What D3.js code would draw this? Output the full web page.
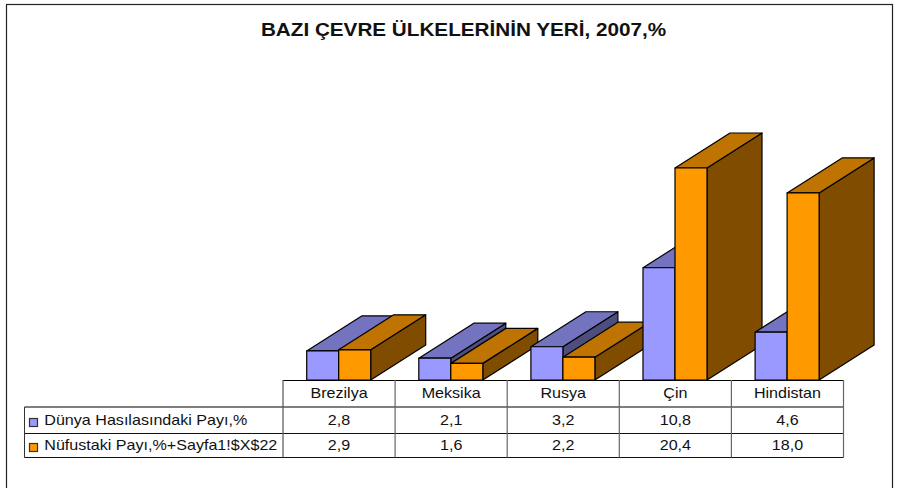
<!DOCTYPE html>
<html><head><meta charset="utf-8">
<script src="https://cdn.jsdelivr.net/npm/d3@7"></script>
<style>html,body{margin:0;padding:0;background:#fff}svg{display:block}text{font-family:"Liberation Sans",Arial,sans-serif;fill:#111}</style>
</head><body><svg id="c" width="899" height="488"></svg>
<script>
const categories=["Brezilya","Meksika","Rusya","Çin","Hindistan"];
const seriesNames=["Dünya Hasılasındaki Payı,%","Nüfustaki Payı,%+Sayfa1!$X$22"];
const hasila=[2.8,2.1,3.2,10.8,4.6];
const nufus=[2.9,1.6,2.2,20.4,18.0];
const hasilaLabels=["2,8","2,1","3,2","10,8","4,6"];
const nufusLabels=["2,9","1,6","2,2","20,4","18,0"];
const titleText="BAZI ÇEVRE ÜLKELERİNİN YERİ, 2007,%";
const colors=[{front:"#9999ff",top:"#7373bf",side:"#4d4d80"},{front:"#ff9900",top:"#bf7300",side:"#804d00"}];

const svg=d3.select("#c");
svg.append("rect").attr("x",6.5).attr("y",4.5).attr("width",886).attr("height",600).attr("fill","#fff").attr("stroke","#222").attr("stroke-width",1.2);
svg.append("text").attr("transform","translate(463.5,36) scale(1.15,1)").attr("text-anchor","middle").attr("font-size",18).attr("font-weight","bold").text(titleText);

const x=d3.scaleBand().domain(categories).range([283,843.5]);
const inner=d3.scaleBand().domain([0,1]).range([23.7,87.7]);
const y=d3.scaleLinear().domain([0,20.4]).range([380,168]);
const dx=55,dy=-35;
const pts=p=>p.map(q=>q.join(",")).join(" ");
const g=svg.append("g").attr("stroke","#000").attr("stroke-width",1.2).attr("stroke-linejoin","round");
categories.forEach((c,i)=>{
  [hasila[i],nufus[i]].forEach((v,s)=>{
    const l=x(c)+inner(s),r=l+inner.bandwidth(),t=y(v),b=y(0),col=colors[s];
    g.append("polygon").attr("points",pts([[r,t],[r+dx,t+dy],[r+dx,b+dy],[r,b]])).attr("fill",col.side);
    g.append("polygon").attr("points",pts([[l,t],[l+dx,t+dy],[r+dx,t+dy],[r,t]])).attr("fill",col.top);
    g.append("rect").attr("x",l).attr("y",t).attr("width",r-l).attr("height",b-t).attr("fill",col.front);
  });
});

const rows=[380,407,433.5,457.5];
const tx0=24.5,tx1=283,tx2=x.range()[1];
const t=svg.append("g");
const line=(a,b,c,d,w,st)=>t.append("line").attr("x1",a).attr("y1",b).attr("x2",c).attr("y2",d).attr("stroke",st||"#222").attr("stroke-width",w||1);
line(tx1,rows[0]+.5,tx2,rows[0]+.5,1,"#000");
line(tx0,rows[1],tx2,rows[1],1.5,"#555");
line(tx0,rows[2],tx2,rows[2],1,"#111");
line(tx0,rows[3],tx2,rows[3],1,"#111");
line(tx0,rows[1],tx0,rows[3],1,"#333");
line(tx1,rows[0],tx1,rows[3],1.2,"#555");
categories.forEach(c=>{line(x(c)+x.bandwidth(),rows[0],x(c)+x.bandwidth(),rows[3],1.2,"#666");});
const cell=(px,py,s,anchor)=>{
  const e=t.append("text").attr("transform",`translate(${px},${py}) scale(1.15,1)`).attr("text-anchor",anchor||"middle").attr("font-size",14).text(s);
  return e;
};
categories.forEach((c,i)=>{
  const m=x(c)+x.bandwidth()/2;
  cell(m,397.5,c);cell(m,425,hasilaLabels[i]);cell(m,450,nufusLabels[i]);
});
seriesNames.forEach((n,s)=>{
  const yy=[425,450][s];
  t.append("rect").attr("x",29.5).attr("y",yy-6.5).attr("width",8).attr("height",8).attr("fill",colors[s].front).attr("stroke","#333").attr("stroke-width",1.2);
  cell(44.3,yy,n,"start");
});
</script></body></html>
